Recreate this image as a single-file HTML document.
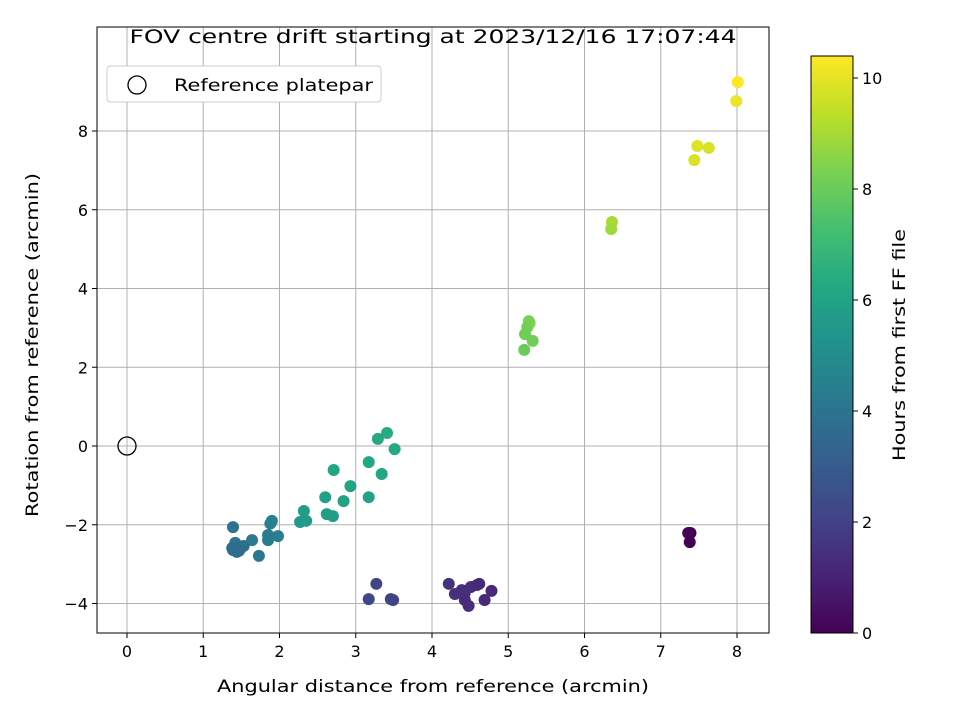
<!DOCTYPE html>
<html><head><meta charset="utf-8"><style>
body{margin:0;background:#fff;}
svg{font-family:"DejaVu Sans","Liberation Sans",sans-serif;}
</style></head><body>
<svg id="chart" width="960" height="720">
<defs><linearGradient id="vir" x1="0" y1="1" x2="0" y2="0">
<stop offset="0" stop-color="#440154"/><stop offset="0.1" stop-color="#482475"/><stop offset="0.2" stop-color="#414487"/><stop offset="0.3" stop-color="#355f8d"/><stop offset="0.4" stop-color="#2a788e"/><stop offset="0.5" stop-color="#21918c"/><stop offset="0.6" stop-color="#22a884"/><stop offset="0.7" stop-color="#44bf70"/><stop offset="0.8" stop-color="#7ad151"/><stop offset="0.9" stop-color="#bddf26"/><stop offset="1" stop-color="#fde725"/>
</linearGradient></defs>
<g id="grid"></g>
<g id="pts"></g>
<rect x="97" y="27" width="672" height="606" fill="none" stroke="#000" stroke-width="1"/>
<g id="ticks"></g>
<text x="433" y="43" text-anchor="middle" font-size="19" textLength="607" lengthAdjust="spacingAndGlyphs">FOV centre drift starting at 2023/12/16 17:07:44</text>
<text x="433" y="692" text-anchor="middle" font-size="17" textLength="432" lengthAdjust="spacingAndGlyphs">Angular distance from reference (arcmin)</text>
<text x="38" y="345" text-anchor="middle" font-size="17" textLength="344" lengthAdjust="spacingAndGlyphs" transform="rotate(-90 38 345)">Rotation from reference (arcmin)</text>
<g>
<rect x="107" y="66" width="274" height="36" rx="3" fill="#fff" stroke="#ccc"/>
<circle cx="137" cy="85" r="9" fill="none" stroke="#000" stroke-width="1.3"/>
<text x="174" y="91" font-size="17" textLength="199" lengthAdjust="spacingAndGlyphs">Reference platepar</text>
</g>
<rect x="811" y="56" width="42" height="577" fill="url(#vir)" stroke="#000" stroke-width="1"/>
<g id="cbticks"></g>
<text x="905" y="345" text-anchor="middle" font-size="17" textLength="232" lengthAdjust="spacingAndGlyphs" transform="rotate(-90 905 345)">Hours from first FF file</text>
</svg>
<script>
const xs=[8.01,7.99,7.48,7.63,7.44,6.36,6.35,5.27,5.28,5.25,5.22,5.32,5.21,3.41,3.29,3.51,3.17,3.34,2.71,2.93,2.84,3.17,2.60,2.62,2.70,2.32,2.27,2.35,1.90,1.88,1.98,1.85,1.85,1.64,1.73,1.39,1.42,1.38,1.48,1.53,1.44,1.39,1.47,3.27,3.17,3.46,3.49,4.22,4.30,4.39,4.43,4.51,4.59,4.43,4.48,4.69,4.78,4.62,7.36,7.39,7.38];
const ys=[9.24,8.76,7.62,7.57,7.26,5.69,5.51,3.17,3.12,3.02,2.84,2.67,2.44,0.33,0.18,-0.08,-0.41,-0.71,-0.61,-1.02,-1.40,-1.30,-1.30,-1.73,-1.78,-1.65,-1.93,-1.90,-1.90,-1.97,-2.29,-2.26,-2.39,-2.39,-2.79,-2.06,-2.46,-2.59,-2.59,-2.54,-2.69,-2.64,-2.66,-3.50,-3.89,-3.89,-3.91,-3.50,-3.76,-3.66,-3.73,-3.58,-3.53,-3.91,-4.06,-3.91,-3.68,-3.50,-2.21,-2.21,-2.44];
const hours=[10.4,10.1,9.9,9.8,9.8,9.0,8.9,8.3,8.3,8.2,8.1,8.1,8.0,6.4,6.3,6.3,6.2,6.2,6.1,6.0,6.0,6.0,5.9,5.9,5.8,5.8,5.6,5.6,4.5,4.5,4.4,4.3,4.3,4.2,4.1,3.9,3.9,3.8,3.8,3.8,3.8,3.7,3.7,2.2,2.2,2.1,2.1,1.5,1.5,1.4,1.4,1.4,1.3,1.3,1.3,1.2,1.2,1.2,0.1,0.05,0.0];
const xTicks=[0,1,2,3,4,5,6,7,8];
const yTicks=[-4,-2,0,2,4,6,8];
const cTicks=[0,2,4,6,8,10];
const X=v=>127+v*76.25, Y=v=>446-v*39.375, C=v=>633-v*55.5;
const vir=["#440154","#482475","#414487","#355f8d","#2a788e","#21918c","#22a884","#44bf70","#7ad151","#bddf26","#fde725"];
function col(h){let t=Math.max(0,Math.min(1,h/10.4))*10;let i=Math.min(9,Math.floor(t)),f=t-i;
const a=vir[i],b=vir[i+1];let o="rgb(";for(let k=0;k<3;k++){const p=parseInt(a.substr(1+2*k,2),16),q=parseInt(b.substr(1+2*k,2),16);o+=Math.round(p+(q-p)*f)+(k<2?",":")");}return o;}
const NS="http://www.w3.org/2000/svg";
function mk(t,at,par){const e=document.createElementNS(NS,t);for(const k in at)e.setAttribute(k,at[k]);document.getElementById(par).appendChild(e);return e;}
xTicks.forEach(v=>{const g=mk("line",{x1:X(v),x2:X(v),y1:27,y2:633,stroke:"#b0b0b0","stroke-width":1},"grid");

mk("line",{x1:X(v),x2:X(v),y1:633,y2:638,stroke:"#000"},"ticks");
const l=mk("text",{x:X(v),y:657,"text-anchor":"middle","font-size":16},"ticks");l.textContent=v;
});
yTicks.forEach(v=>{const g=mk("line",{x1:97,x2:769,y1:Y(v),y2:Y(v),stroke:"#b0b0b0","stroke-width":1},"grid");

mk("line",{x1:92,x2:97,y1:Y(v),y2:Y(v),stroke:"#000"},"ticks");
const l=mk("text",{x:88,y:Y(v)+6,"text-anchor":"end","font-size":16},"ticks");l.textContent=v===0?"0":(v<0?"\u2212"+(-v):v);
});
cTicks.forEach(v=>{mk("line",{x1:853,x2:858,y1:C(v),y2:C(v),stroke:"#000"},"cbticks");
const l=mk("text",{x:862,y:C(v)+6,"font-size":16},"cbticks");l.textContent=v;
});
const r=mk("circle",{cx:X(0),cy:Y(0),r:9,fill:"none",stroke:"#000","stroke-width":1.3},"pts");

xs.forEach((x,i)=>{const c=mk("circle",{cx:X(x),cy:Y(ys[i]),r:6,fill:col(hours[i])},"pts");
});
</script>
</body></html>
